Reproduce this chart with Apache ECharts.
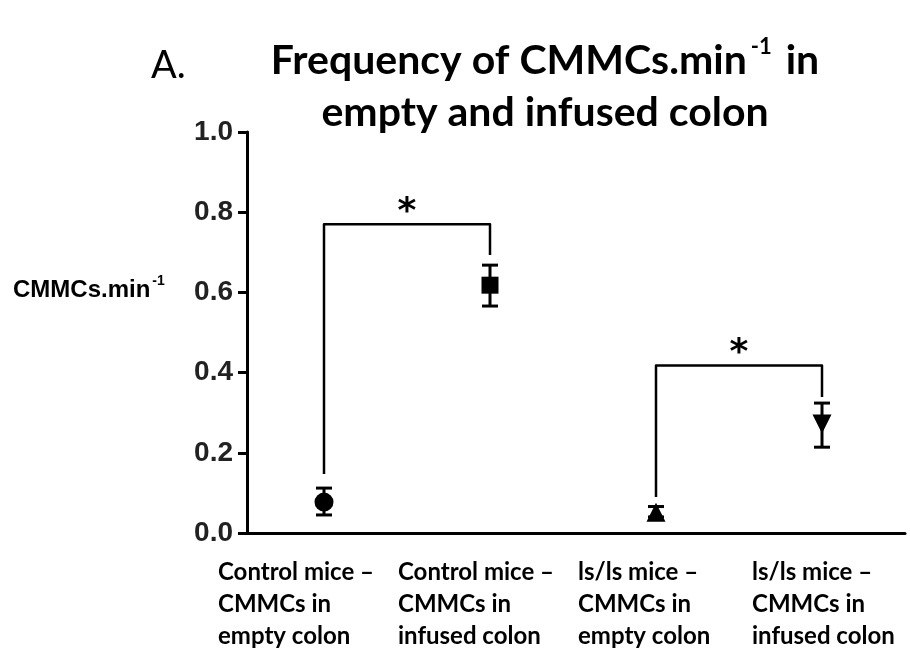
<!DOCTYPE html>
<html>
<head>
<meta charset="utf-8">
<script src="https://cdn.jsdelivr.net/npm/echarts@6/dist/echarts.min.js"></script>
<style>
  html, body { margin: 0; padding: 0; background: #fff; }
  #main { width: 910px; height: 651px; }
</style>
</head>
<body>
<div id="main"></div>
<script>
// groups on the x axis
const categories = [
  'Control mice –\nCMMCs in\nempty colon',
  'Control mice –\nCMMCs in\ninfused colon',
  'ls/ls mice –\nCMMCs in\nempty colon',
  'ls/ls mice –\nCMMCs in\ninfused colon'
]
// mean CMMCs per minute and the error bar ends
const means = [0.077, 0.618, 0.052, 0.272]
const errLow = [0.045, 0.566, 0.040, 0.214]
const errHigh = [0.112, 0.668, 0.066, 0.324]
const symbols = ['circle', 'rect', 'triangle', 'triangle']
const symbolRotates = [0, 0, 0, 180]

// significance brackets
const bracketFrom = [0, 2]
const bracketTo = [1, 3]
const bracketTop = [0.77, 0.418]
const bracketLeftEnd = [0.147, 0.09]
const bracketRightEnd = [0.693, 0.339]
const bracketMark = ['*', '*']

// label box widths so the text blocks sit like the original
const labelBoxW = [212, 184, 156, 140]

let chartDom = document.getElementById('main')
let myChart = echarts.init(chartDom)

const rich = {}
labelBoxW.forEach((w, i) => {
  rich['l' + i] = {
    width: w, align: 'left', fontFamily: 'Lato', fontWeight: 'bold',
    fontSize: 24, lineHeight: 32, color: '#000'
  }
})

let option = {
  animation: false,
  backgroundColor: '#fff',
  title: [
    {
      text: '{t|Frequency of CMMCs.min}{sup|-1}{t| in}\n{t|empty and infused colon}',
      left: 540,
      top: 30,
      textAlign: 'center',
      textStyle: {
        rich: {
          t: { fontFamily: 'Lato', fontWeight: 'bold', fontSize: 41, lineHeight: 52, color: '#000' },
          sup: { fontFamily: 'Lato', fontWeight: 'bold', fontSize: 22, color: '#000', padding: [0, 4, 28, 4] }
        }
      }
    },
    {
      text: 'A.',
      left: 146,
      top: 42,
      textStyle: { fontFamily: 'Lato', fontWeight: 'normal', fontSize: 38, color: '#000' }
    }
  ],
  graphic: [
    {
      type: 'text',
      left: 13,
      top: 274,
      style: {
        text: '{n|CMMCs.min}{s|-1}',
        rich: {
          n: { fontFamily: 'Liberation Sans', fontWeight: 'bold', fontSize: 24, color: '#000' },
          s: { fontFamily: 'Liberation Sans', fontWeight: 'bold', fontSize: 14, color: '#000', padding: [0, 0, 18, 2] }
        }
      }
    }
  ],
  grid: { left: 241, right: 5, top: 132, bottom: 118, outerBoundsMode: 'none' },
  xAxis: {
    type: 'category',
    data: categories,
    boundaryGap: true,
    axisLine: { lineStyle: { color: '#000', width: 3 } },
    axisTick: { alignWithLabel: true, length: 9, lineStyle: { color: '#000', width: 3 } },
    axisLabel: {
      interval: 0,
      margin: 23,
      align: 'center',
      formatter: (val, idx) => val.split('\n').map(s => '{l' + idx + '|' + s + '}').join('\n'),
      rich: rich
    },
    splitLine: { show: false }
  },
  yAxis: {
    type: 'value',
    min: 0,
    max: 1,
    interval: 0.2,
    offset: -6,
    axisLine: { show: true, lineStyle: { color: '#000', width: 3 } },
    axisTick: { show: true, length: 9, lineStyle: { color: '#000', width: 3 } },
    axisLabel: {
      margin: 14,
      fontFamily: 'Liberation Sans',
      fontWeight: 'bold',
      fontSize: 28,
      color: '#222',
      formatter: v => v.toFixed(1)
    },
    splitLine: { show: false }
  },
  series: [
    {
      name: 'error',
      type: 'custom',
      data: categories.map((c, i) => [i, errLow[i], errHigh[i]]),
      renderItem: (params, api) => {
        const lo = api.coord([api.value(0), api.value(1)])
        const hi = api.coord([api.value(0), api.value(2)])
        const cap = 8
        const st = { stroke: '#000', lineWidth: 3 }
        return {
          type: 'group',
          children: [
            { type: 'line', shape: { x1: lo[0], y1: lo[1], x2: hi[0], y2: hi[1] }, style: st },
            { type: 'line', shape: { x1: lo[0] - cap, y1: lo[1], x2: lo[0] + cap, y2: lo[1] }, style: st },
            { type: 'line', shape: { x1: hi[0] - cap, y1: hi[1], x2: hi[0] + cap, y2: hi[1] }, style: st }
          ]
        }
      },
      z: 2
    },
    {
      name: 'mean',
      type: 'scatter',
      data: means.map((v, i) => ({
        value: [i, v],
        symbol: symbols[i],
        symbolRotate: symbolRotates[i],
        symbolSize: symbols[i] === 'rect' ? 17 : 19
      })),
      itemStyle: { color: '#000', opacity: 1 },
      z: 3
    },
    {
      name: 'bracket',
      type: 'custom',
      data: bracketFrom.map((f, i) => [f, bracketTo[i], bracketTop[i], bracketLeftEnd[i], bracketRightEnd[i]]),
      renderItem: (params, api) => {
        const i = params.dataIndex
        const a = api.coord([api.value(0), api.value(3)])
        const b = api.coord([api.value(0), api.value(2)])
        const c = api.coord([api.value(1), api.value(2)])
        const d = api.coord([api.value(1), api.value(4)])
        return {
          type: 'group',
          children: [
            {
              type: 'polyline',
              shape: { points: [a, b, c, d] },
              style: { stroke: '#000', lineWidth: 2.5, fill: null, lineJoin: 'round' }
            },
            {
              type: 'text',
              style: {
                text: bracketMark[i],
                x: (b[0] + c[0]) / 2,
                y: b[1] + 6,
                align: 'center',
                verticalAlign: 'bottom',
                fontFamily: 'DejaVu Sans',
                fontWeight: 'bold',
                fontSize: 36,
                fill: '#000'
              }
            }
          ]
        }
      },
      z: 1
    }
  ]
}
myChart.setOption(option)
</script>
</body>
</html>
